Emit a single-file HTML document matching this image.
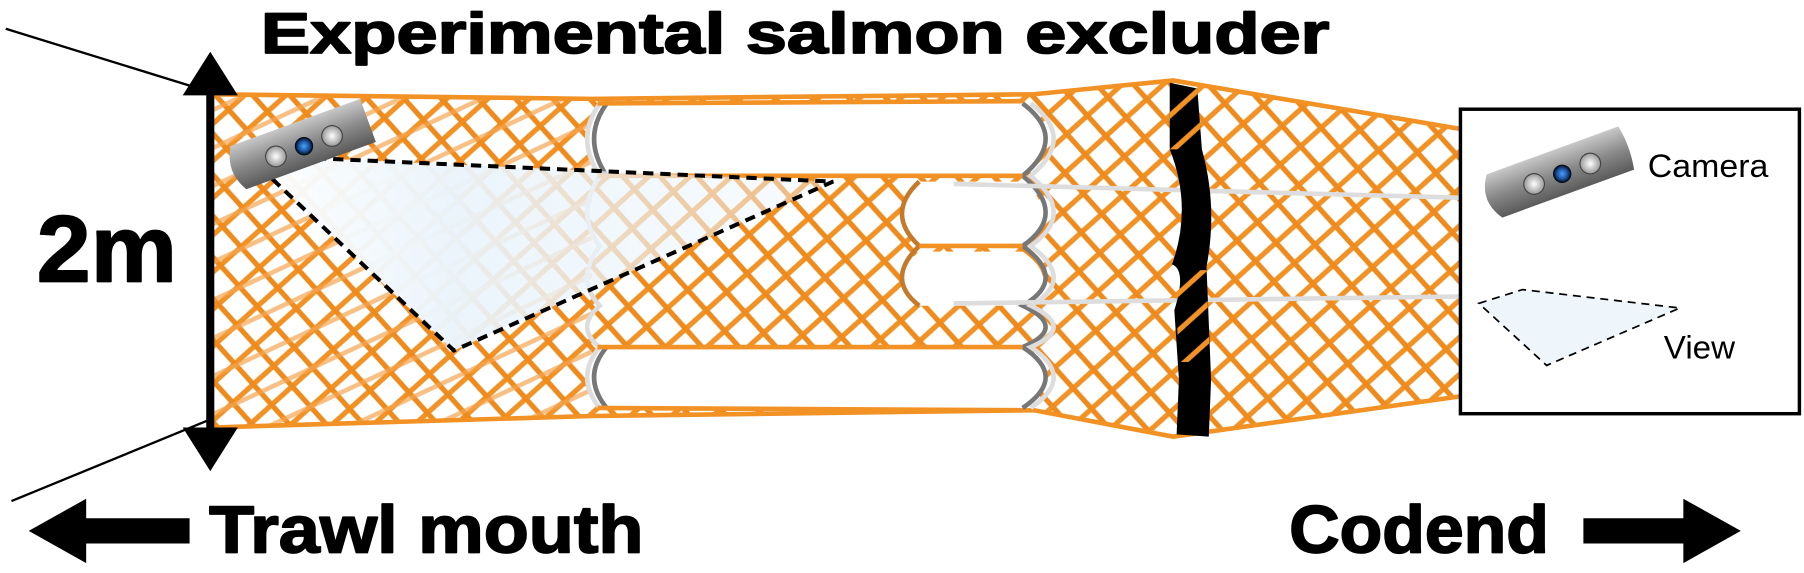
<!DOCTYPE html>
<html><head><meta charset="utf-8"><style>
html,body{margin:0;padding:0;background:#fff;width:1804px;height:573px;overflow:hidden}
svg{display:block}
</style></head><body>
<svg width="1804" height="573" viewBox="0 0 1570 498.6" xmlns="http://www.w3.org/2000/svg" font-family="Liberation Sans, sans-serif">
<defs>
<pattern id="mesh" width="24" height="24" patternUnits="userSpaceOnUse" patternTransform="rotate(48)">
<line x1="12" y1="0" x2="12" y2="24" stroke="#f29124" stroke-width="4.5"/>
</pattern>
<pattern id="mesh2" width="24" height="24" patternUnits="userSpaceOnUse" patternTransform="rotate(-42)">
<line x1="12" y1="0" x2="12" y2="24" stroke="#ef8a1c" stroke-width="4.5"/>
</pattern>
<pattern id="mesh3" width="30" height="30" patternUnits="userSpaceOnUse" patternTransform="rotate(65)">
<line x1="15" y1="0" x2="15" y2="30" stroke="#f5a550" stroke-width="4"/>
</pattern>
<linearGradient id="view" x1="0" y1="0" x2="1" y2="0">
<stop offset="0" stop-color="#fff" stop-opacity="0.95"/>
<stop offset="0.35" stop-color="#eaf4fb" stop-opacity="0.97"/>
<stop offset="1" stop-color="#eef6fc" stop-opacity="0.4"/>
</linearGradient>
<linearGradient id="cam" x1="0" y1="0" x2="0" y2="1">
<stop offset="0" stop-color="#c8c8c8"/><stop offset="0.5" stop-color="#8a8a8a"/><stop offset="1" stop-color="#5a5a5a"/>
</linearGradient>
<radialGradient id="lens"><stop offset="0" stop-color="#fff"/><stop offset="1" stop-color="#999"/></radialGradient>
<radialGradient id="blue"><stop offset="0" stop-color="#4aa0ff"/><stop offset="0.6" stop-color="#1a4f9a"/><stop offset="1" stop-color="#000"/></radialGradient>
</defs>

<line x1="5" y1="25" x2="183" y2="80" stroke="#000" stroke-width="2"/>
<line x1="10" y1="436" x2="183" y2="365" stroke="#000" stroke-width="2"/>

<path d="M185,82 L515,86 L900,82 L1021,70 L1270,112 L1270,345 L1021,380 L900,357 L515,362 L185,372 Z" fill="#fff"/>
<path d="M185,82 L515,86 L900,82 L1021,70 L1270,112 L1270,345 L1021,380 L900,357 L515,362 L185,372 Z" fill="url(#mesh)"/>
<path d="M185,82 L515,86 L900,82 L1021,70 L1270,112 L1270,345 L1021,380 L900,357 L515,362 L185,372 Z" fill="url(#mesh2)"/>
<path d="M185,82 L515,86 L515,362 L185,372 Z" fill="url(#mesh3)" opacity="0.7"/>
<path d="M185,82 L515,86 L900,82 L1021,70 L1270,112 M1270,345 L1021,380 L900,357 L515,362 L185,372" fill="none" stroke="#f29124" stroke-width="4"/>

<g fill="#fff">
<path d="M520,90 L890,90 Q930,120 890,153 L520,153 Q500,120 520,90 Z"/>
<path d="M800,158 L890,158 Q925,186 890,214 L800,214 Q770,186 800,158 Z"/>
<path d="M800,219 L890,219 Q925,243 890,266 L800,266 Q770,243 800,219 Z"/>
<path d="M520,302 L890,302 Q930,328 890,355 L520,355 Q500,328 520,302 Z"/>
</g>
<g fill="none" stroke-width="4">
<path d="M890,90 Q930,120 890,153 Q930,186 890,214 Q930,243 890,266 Q930,285 890,302 Q930,328 890,355" stroke="#777"/>
<path d="M897,90 Q937,120 897,153 Q937,186 897,214 Q937,243 897,266 Q937,285 897,302 Q937,328 897,355" stroke="#ddd"/>
<path d="M522,90 Q500,120 522,153 Q500,186 522,214 Q500,243 522,266 Q500,285 522,302 Q500,328 522,355" stroke="#ddd"/>
<path d="M528,90 Q506,120 528,153 M528,302 Q506,328 528,355" stroke="#777"/>
<path d="M800,158 Q770,186 800,214 Q770,243 800,266" stroke="#c47a2a"/>
</g>
<g stroke="#f29124" stroke-width="4">
<line x1="520" y1="153" x2="890" y2="153"/>
<line x1="800" y1="214" x2="890" y2="214"/>
<line x1="520" y1="302" x2="890" y2="302"/>
<line x1="520" y1="90" x2="890" y2="88"/>
<line x1="520" y1="355" x2="890" y2="357"/>
</g>
<g stroke="#ddd" stroke-width="4">
<line x1="830" y1="160" x2="1270" y2="172"/>
<line x1="830" y1="264" x2="1270" y2="258"/>
</g>

<path d="M1018,72 L1042,77 L1046,130 Q1060,180 1050,232 L1054,330 L1052,380 L1024,378 L1026,330 L1022,270 Q1033,235 1020,230 Q1038,180 1018,130 Z" fill="#000"/>
<path d="M1018,72 L1042,77 L1046,130 L1018,130 Z M1022,235 L1050,235 L1053,315 L1026,315 Z" fill="url(#mesh)"/>

<polygon points="215,135 725,158 395,305" fill="url(#view)"/>
<polygon points="215,135 725,158 395,305" fill="none" stroke="#000" stroke-width="3.5" stroke-dasharray="9,6"/>

<g transform="translate(262,126) rotate(-20)">
<path d="M-58,-20 L62,-20 L62,20 L-58,20 Q-70,0 -58,-20 Z" fill="url(#cam)"/>
<circle cx="-24" cy="2" r="9" fill="url(#lens)" stroke="#444" stroke-width="1"/>
<circle cx="2" cy="2" r="8" fill="url(#blue)"/>
<circle cx="28" cy="2" r="9" fill="url(#lens)" stroke="#444" stroke-width="1"/>
</g>

<rect x="179.5" y="78" width="7" height="298" fill="#000"/>
<polygon points="183,45 207,83 159,83" fill="#000"/>
<polygon points="183,410 207,372 159,372" fill="#000"/>

<g font-weight="bold" stroke="#000" stroke-width="1.5" stroke-linejoin="round">
<text x="692" y="46" font-size="50" text-anchor="middle" textLength="930" lengthAdjust="spacingAndGlyphs">Experimental salmon excluder</text>
<text x="32" y="245" font-size="82" textLength="122" lengthAdjust="spacingAndGlyphs">2m</text>
<text x="182" y="481" font-size="58" textLength="378" lengthAdjust="spacingAndGlyphs">Trawl mouth</text>
<text x="1122" y="481" font-size="58" textLength="226" lengthAdjust="spacingAndGlyphs">Codend</text>
</g>

<polygon points="25,462 75,434 75,451 165,451 165,473 75,473 75,490" fill="#000"/>
<polygon points="1515,462 1465,434 1465,451 1378,451 1378,473 1465,473 1465,490" fill="#000"/>

<rect x="1271" y="95" width="295" height="265" fill="#fff" stroke="#000" stroke-width="3"/>
<g transform="translate(1357,150) rotate(-20)">
<path d="M-60,-20 L62,-20 Q66,0 62,20 L-60,20 Q-74,0 -60,-20 Z" fill="url(#cam)"/>
<circle cx="-24" cy="2" r="9" fill="url(#lens)" stroke="#444" stroke-width="1"/>
<circle cx="2" cy="2" r="8" fill="url(#blue)"/>
<circle cx="28" cy="2" r="9" fill="url(#lens)" stroke="#444" stroke-width="1"/>
</g>
<text x="1434" y="154" font-size="28" textLength="105" lengthAdjust="spacingAndGlyphs">Camera</text>
<polygon points="1287,264 1325,252 1462,268 1346,318" fill="#eef5fb" stroke="#000" stroke-width="1.5" stroke-dasharray="7,5"/>
<text x="1448" y="312" font-size="28" textLength="62" lengthAdjust="spacingAndGlyphs">View</text>
</svg>
</body></html>
